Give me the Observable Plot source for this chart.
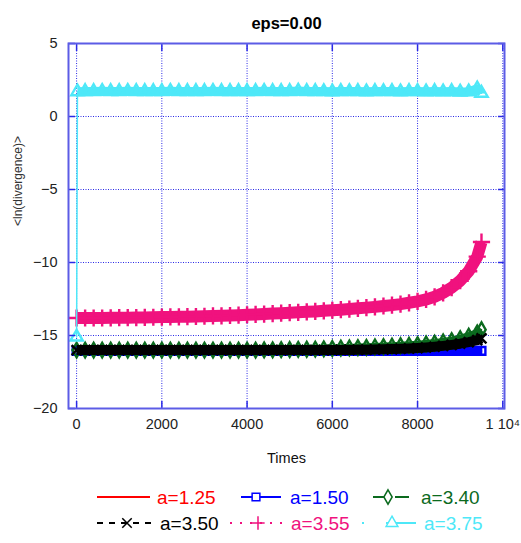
<!DOCTYPE html>
<html>
<head>
<meta charset="utf-8">
<script src="https://cdn.jsdelivr.net/npm/d3@7"></script>
<script src="https://cdn.jsdelivr.net/npm/@observablehq/plot@0.6"></script>
<style>
  body { margin: 0; background: #fff; font-family: "Liberation Sans", Arial, sans-serif; }
  #chart { width: 521px; }
</style>
</head>
<body>
<div id="chart"></div>
<script>
// ---- data ----
const title = "eps=0.00";
const xLabel = "Times";
const yLabel = "<ln(divergence)>";
const xTicks = [0, 2000, 4000, 6000, 8000, 10000];
const yTicks = [-20, -15, -10, -5, 0, 5];

const times = [0,200,400,600,800,1000,1200,1400,1600,1800,2000,2200,2400,2600,2800,3000,3200,3400,3600,3800,
  4000,4200,4400,4600,4800,5000,5200,5400,5600,5800,6000,6200,6400,6600,6800,7000,7200,7400,7600,7800,
  8000,8200,8400,8600,8800,9000,9200,9400,9500];

const a125 = [-16.1,-16.1,-16.1,-16.1,-16.1,-16.1,-16.1,-16.1,-16.1,-16.1,
  -16.1,-16.1,-16.1,-16.1,-16.1,-16.1,-16.1,-16.1,-16.1,-16.1,
  -16.1,-16.1,-16.1,-16.1,-16.1,-16.1,-16.1,-16.1,-16.1,-16.1,
  -16.1,-16.1,-16.1,-16.1,-16.1,-16.1,-16.1,-16.1,-16.1,-16.1,
  -16.1,-16.1,-16.1,-16.1,-16.1,-16.1,-16.1,-16.1,-16.1];
const a150 = [-16.05,-16.05,-16.05,-16.05,-16.05,-16.05,-16.05,-16.05,-16.05,-16.05,
  -16.05,-16.05,-16.05,-16.05,-16.05,-16.05,-16.05,-16.05,-16.05,-16.05,
  -16.05,-16.05,-16.05,-16.05,-16.05,-16.05,-16.05,-16.05,-16.05,-16.05,
  -16.05,-16.05,-16.05,-16.05,-16.05,-16.05,-16.05,-16.05,-16.05,-16.05,
  -16.05,-16.05,-16.05,-16.05,-16.05,-16.05,-16.05,-16.05,-16.05];
const a340 = [-16.0,-16.0,-16.0,-16.0,-16.0,-16.0,-16.0,-16.0,-16.0,-16.0,
  -16.0,-16.0,-16.0,-16.0,-16.0,-16.0,-16.0,-16.0,-16.0,-16.0,
  -16.0,-16.0,-15.99,-15.98,-15.97,-15.96,-15.95,-15.94,-15.93,-15.91,
  -15.89,-15.87,-15.85,-15.83,-15.81,-15.78,-15.76,-15.73,-15.7,-15.67,
  -15.63,-15.58,-15.52,-15.44,-15.35,-15.22,-15.05,-14.82,-14.6];
const a350 = [-16.0,-16.0,-16.0,-16.0,-16.0,-16.0,-16.0,-16.0,-16.0,-16.0,
  -16.0,-16.0,-16.0,-16.0,-16.0,-16.0,-16.0,-16.0,-16.0,-16.0,
  -16.0,-16.0,-16.0,-16.0,-16.0,-16.0,-16.0,-16.0,-16.0,-16.0,
  -16.0,-15.99,-15.99,-15.98,-15.97,-15.96,-15.95,-15.93,-15.91,-15.89,
  -15.86,-15.82,-15.77,-15.71,-15.64,-15.56,-15.45,-15.32,-15.2];
const a355 = [-13.8,-13.8,-13.8,-13.8,-13.79,-13.78,-13.78,-13.77,-13.76,-13.75,
  -13.74,-13.73,-13.72,-13.71,-13.7,-13.68,-13.66,-13.65,-13.63,-13.61,
  -13.58,-13.56,-13.53,-13.5,-13.47,-13.44,-13.41,-13.38,-13.35,-13.31,
  -13.27,-13.23,-13.19,-13.14,-13.09,-13.04,-12.98,-12.92,-12.85,-12.76,
  -12.66,-12.53,-12.35,-12.08,-11.72,-11.25,-10.6,-9.6,-8.6];
const cyanTimes = [0,20,200,400,600,800,1000,1200,1400,1600,1800,2000,2200,2400,2600,2800,3000,3200,3400,3600,3800,
  4000,4200,4400,4600,4800,5000,5200,5400,5600,5800,6000,6200,6400,6600,6800,7000,7200,7400,7600,7800,
  8000,8200,8400,8600,8800,9000,9200,9400,9500];
const a375 = [-15.1,1.7,
  1.72,1.72,1.73,1.72,1.72,1.73,1.72,1.72,1.72,
  1.72,1.73,1.72,1.72,1.72,1.72,1.73,1.72,1.72,1.72,
  1.72,1.72,1.73,1.72,1.72,1.72,1.74,1.72,1.72,1.71,
  1.7,1.72,1.71,1.72,1.7,1.72,1.71,1.72,1.7,1.72,
  1.72,1.7,1.72,1.7,1.72,1.68,1.7,1.9,1.6];

const seriesNames = ["a=1.25","a=1.50","a=3.40","a=3.50","a=3.55","a=3.75"];
const seriesColors = ["#ff0000","#0000ff","#0b6a1e","#000000","#f0127e","#4ee8f8"];

// ---- build ----
const series = [
  {name: seriesNames[0], color: seriesColors[0], t: times, v: a125, symbol: null, dash: null, band: 0, skip: 0, r: 0},
  {name: seriesNames[1], color: seriesColors[1], t: times, v: a150, symbol: "square", dash: null, band: 8, skip: 0, r: 4.4},
  {name: seriesNames[2], color: seriesColors[2], t: times, v: a340, symbol: "diamond", dash: "10,6", band: 8, skip: 0, r: 4.4},
  {name: seriesNames[3], color: seriesColors[3], t: times, v: a350, symbol: "times", dash: "5,5", band: 10, skip: 0, r: 4.6},
  {name: seriesNames[4], color: seriesColors[4], t: times, v: a355, symbol: "plus", dash: "2,6", band: 12, skip: 0, r: 5.6},
  {name: seriesNames[5], color: seriesColors[5], t: cyanTimes, v: a375, symbol: "triangle", dash: null, band: 9, skip: 1, r: 4.6}
];

const gridColor = "#2a2ae6";
const frameColor = "#5c5ce6";
const marks = [
  Plot.gridX(xTicks, {stroke: gridColor, strokeOpacity: 1, strokeWidth: 1, strokeDasharray: "1,1.5"}),
  Plot.gridY(yTicks, {stroke: gridColor, strokeOpacity: 1, strokeWidth: 1, strokeDasharray: "1,1.5"})
];
for (const s of series) {
  const rows = s.t.map((t, i) => ({t, v: s.v[i]}));
  marks.push(Plot.line(rows, {x: "t", y: "v", stroke: s.color, strokeWidth: 1.5, strokeDasharray: s.dash}));
  if (s.band) {
    marks.push(Plot.line(rows.slice(s.skip), {x: "t", y: "v", stroke: s.color, strokeWidth: s.band, strokeLinecap: "butt"}));
  }
  if (s.symbol) {
    marks.push(Plot.dot(rows, {x: "t", y: "v", stroke: s.color, symbol: s.symbol, r: s.r, strokeWidth: 2.4, fill: "none"}));
  }
}
marks.push(
  Plot.axisX(xTicks, {tickSize: 0, tickPadding: 10, fontSize: 14.5, label: null,
    tickFormat: d => d === 10000 ? "1 10\u2074" : String(d)}),
  Plot.axisY(yTicks, {tickSize: 0, tickPadding: 11, fontSize: 14.5, label: null}),
  Plot.axisX(xTicks, {anchor: "bottom", tickSize: -7, stroke: gridColor, strokeWidth: 1.5, tickFormat: () => "", label: null}),
  Plot.axisX(xTicks, {anchor: "top", tickSize: -7, stroke: gridColor, strokeWidth: 1.5, tickFormat: () => "", label: null}),
  Plot.axisY(yTicks, {anchor: "left", tickSize: -7, stroke: gridColor, strokeWidth: 1.5, tickFormat: () => "", label: null}),
  Plot.axisY(yTicks, {anchor: "right", tickSize: -7, stroke: gridColor, strokeWidth: 1.5, tickFormat: () => "", label: null}),
  Plot.frame({stroke: frameColor, strokeWidth: 2}),
  Plot.text([title], {frameAnchor: "top", dy: -26, fontSize: 16.5, fontWeight: "bold", fill: "#000"}),
  Plot.text([xLabel], {frameAnchor: "bottom", dy: 54, fontSize: 14.5, fill: "#111"}),
  Plot.text([yLabel], {frameAnchor: "left", dx: -50, rotate: -90, fontSize: 12, fill: "#333", letterSpacing: "1.6px"})
);

const plot = Plot.plot({
  width: 521,
  height: 480,
  marginTop: 43,
  marginBottom: 72,
  marginLeft: 68,
  marginRight: 17,
  x: {domain: [-190, 10040]},
  y: {domain: [-20, 5]},
  style: {fontFamily: "'Liberation Sans', Arial, sans-serif", color: "#222", background: "#fff"},
  marks
});
document.getElementById("chart").appendChild(plot);

// ---- legend (below the SVG) ----
const ns = "http://www.w3.org/2000/svg";
const leg = document.createElementNS(ns, "svg");
leg.setAttribute("width", 521);
leg.setAttribute("height", 63);
leg.style.display = "block";
const legendLayout = [
  {x0: 97, x1: 150, mx: null, lx: 157, cy: 17, dash: null},
  {x0: 241, x1: 281, mx: 256, lx: 290, cy: 17, dash: null},
  {x0: 373, x1: 412, mx: 388, lx: 421, cy: 17, dash: "14,8"},
  {x0: 97, x1: 152, mx: 127, lx: 160, cy: 43, dash: "6,6"},
  {x0: 230, x1: 285, mx: 258, lx: 291, cy: 43, dash: "2,8"},
  {x0: 362, x1: 416, mx: 392, lx: 424, cy: 43, dash: "2,22,30"}
];
function el(name, attrs, parent) {
  const e = document.createElementNS(ns, name);
  for (const k in attrs) e.setAttribute(k, attrs[k]);
  parent.appendChild(e);
  return e;
}
const symMap = {square: d3.symbolSquare, diamond: d3.symbolDiamond, times: d3.symbolTimes, plus: d3.symbolPlus, triangle: d3.symbolTriangle};
legendLayout.forEach((L, i) => {
  const s = series[i];
  const line = el("line", {x1: L.x0, x2: L.x1, y1: L.cy, y2: L.cy, stroke: s.color, "stroke-width": 2}, leg);
  if (L.dash) line.setAttribute("stroke-dasharray", L.dash);
  if (L.mx != null) {
    const m = el("path", {
      d: d3.symbol(symMap[s.symbol], 60)(),
      transform: `translate(${L.mx},${L.cy})`,
      fill: "#fff", stroke: s.color, "stroke-width": 1.5
    }, leg);
    if (s.symbol === "times" || s.symbol === "plus") m.setAttribute("fill", "none");
  }
  const tx = el("text", {x: L.lx, y: L.cy, "dominant-baseline": "central", fill: s.color,
    "font-size": 19, "font-family": "'Liberation Sans', Arial, sans-serif"}, leg);
  tx.textContent = s.name;
});
document.getElementById("chart").appendChild(leg);
</script>
</body>
</html>
